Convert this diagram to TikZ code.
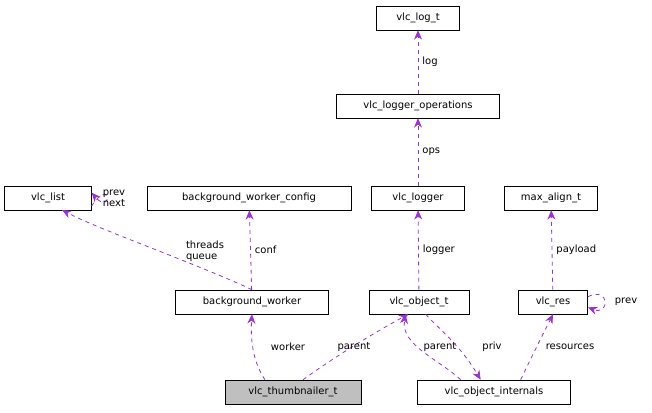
\documentclass[tikz,border=0pt]{standalone}
\usepackage{fontspec}
\setmainfont{DejaVu Sans}
\usetikzlibrary{arrows.meta}
\definecolor{edgepurple}{RGB}{154,50,205}
\tikzset{
  cls/.style={draw=black, fill=white, minimum height=18pt, inner sep=2pt, font=\fontsize{7.5}{8.5}\selectfont},
  use/.style={draw=edgepurple, dashed, -{Stealth[length=7pt,width=6pt]}, line width=0.6pt},
  lbl/.style={font=\fontsize{7.5}{8.5}\selectfont, align=left, inner sep=1pt}
}
\begin{document}
\begin{tikzpicture}[x=0.75pt,y=-0.75pt]
\useasboundingbox (0,0) rectangle (652,412);
% classes
\node[cls, minimum width=62pt] (logt) at (418,18) {vlc\_log\_t};
\node[cls, minimum width=122pt] (logops) at (418,106) {vlc\_logger\_operations};
\node[cls, minimum width=70pt] (logger) at (418,198) {vlc\_logger};
\node[cls, minimum width=65pt] (list) at (48,198) {vlc\_list};
\node[cls, minimum width=153pt] (bwconf) at (249,198) {background\_worker\_config};
\node[cls, minimum width=70pt] (maxal) at (551,198) {max\_align\_t};
\node[cls, minimum width=115pt] (bw) at (252,302) {background\_worker};
\node[cls, minimum width=75pt] (obj) at (419,302) {vlc\_object\_t};
\node[cls, minimum width=52pt] (res) at (553,302) {vlc\_res};
\node[cls, minimum width=102pt, fill=black!25] (thumb) at (293,392) {vlc\_thumbnailer\_t};
\node[cls, minimum width=115pt] (priv) at (494,392) {vlc\_object\_internals};
% usage
\draw[use] (logops) -- (logt) node[lbl, midway, right=2pt] {log};
\draw[use] (logger) -- (logops) node[lbl, midway, right=2pt] {ops};
\draw[use] (obj) -- (logger) node[lbl, midway, right=2pt] {logger};
\draw[use] ([yshift=-6]list.east) .. controls (112,176) and (112,216) .. ([yshift=4]list.east);
\node[lbl] (listlbl) at (114,198) {prev\\next};
\draw[use] (bw.north) .. controls (200,265) and (100,230) .. (62,210);
\node[lbl] (bwlbl) at (205,251) {threads\\queue};
\draw[use] (bw) -- (bwconf) node[lbl, midway, right=2pt] {conf};
\draw[use] (res) -- (maxal) node[lbl, midway, right=2pt] {payload};
\draw[use] ([yshift=4]res.east) .. controls (610,286) and (610,316) .. ([yshift=-4]res.east);
\node[lbl] (reslbl) at (626,302) {prev};
\draw[use] (thumb.north) ++(-28,0) .. controls (255,365) and (250,345) .. (bw.south);
\node[lbl] (wlbl) at (288,347) {worker};
\draw[use] (thumb.north) ++(10,0) .. controls (330,360) and (370,335) .. ([xshift=-8]obj.south);
\node[lbl] (plbl1) at (354,347) {parent};
\draw[use] ([xshift=-25]priv.north) .. controls (440,360) and (400,345) .. ([xshift=-10]obj.south) ;
\node[lbl] (plbl2) at (440,347) {parent};
\draw[use] ([xshift=5]obj.south) .. controls (440,330) and (460,345) .. ([xshift=-10]priv.north);
\node[lbl] (privlbl) at (492,347) {priv};
\draw[use] ([xshift=20]priv.north) .. controls (530,360) and (540,340) .. (res.south);
\node[lbl] (rlbl) at (570,347) {resources};
\end{tikzpicture}
\end{document}
